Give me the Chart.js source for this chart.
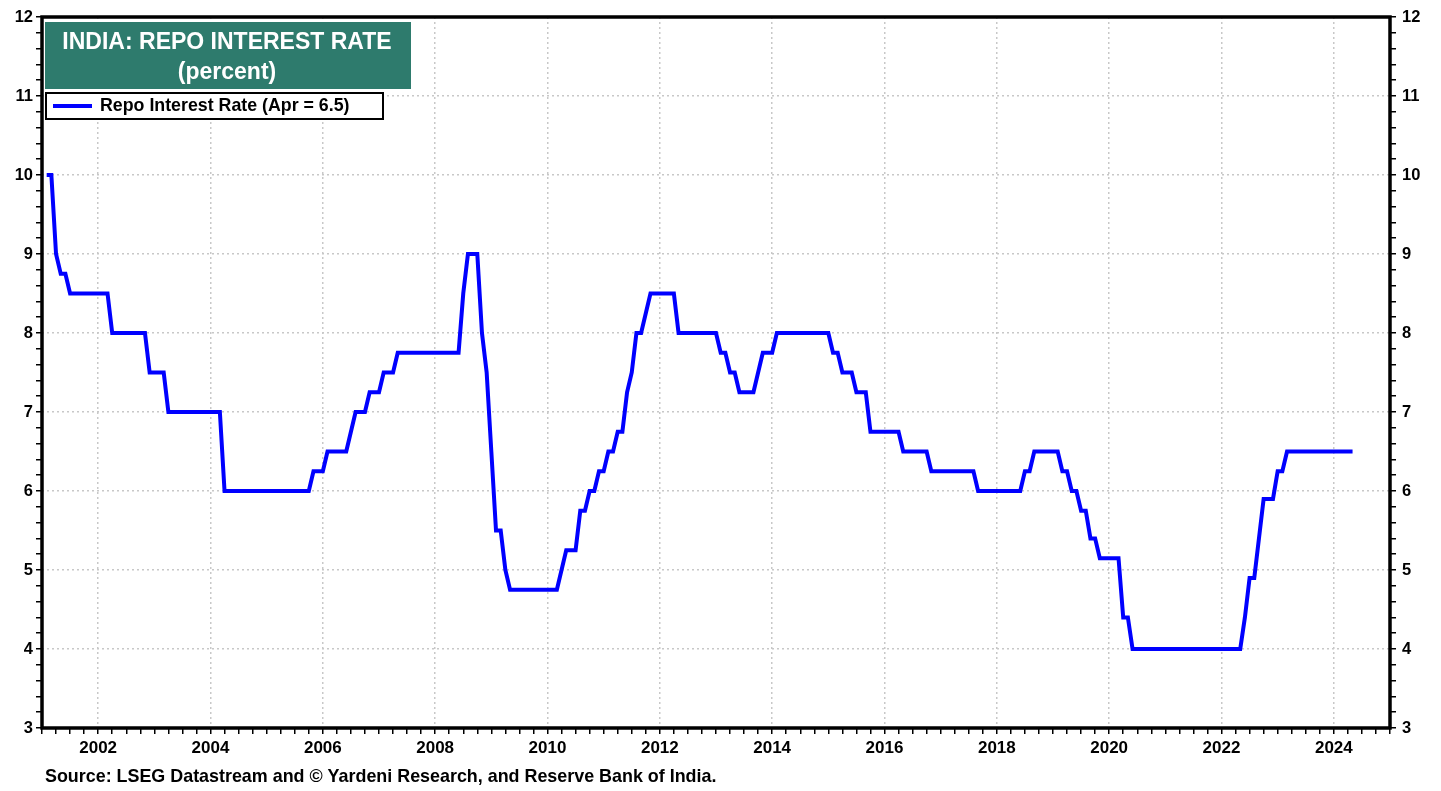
<!DOCTYPE html>
<html>
<head>
<meta charset="utf-8">
<script src="https://cdn.jsdelivr.net/npm/chart.js@4.4.1/dist/chart.umd.min.js"></script>
<style>
  html, body { margin: 0; padding: 0; background: #fff; }
</style>
</head>
<body>
<canvas id="myChart" width="1441" height="791"></canvas>
<script>
// monthly values, month-end, starting Jan 2001
const startYear = 2001;
const repoRate = [
  10, 10, 9, 8.75, 8.75, 8.5, 8.5, 8.5, 8.5, 8.5, 8.5, 8.5,          // 2001
  8.5, 8.5, 8, 8, 8, 8, 8, 8, 8, 8, 7.5, 7.5,                        // 2002
  7.5, 7.5, 7, 7, 7, 7, 7, 7, 7, 7, 7, 7,                            // 2003
  7, 7, 6, 6, 6, 6, 6, 6, 6, 6, 6, 6,                                // 2004
  6, 6, 6, 6, 6, 6, 6, 6, 6, 6.25, 6.25, 6.25,                       // 2005
  6.5, 6.5, 6.5, 6.5, 6.5, 6.75, 7, 7, 7, 7.25, 7.25, 7.25,          // 2006
  7.5, 7.5, 7.5, 7.75, 7.75, 7.75, 7.75, 7.75, 7.75, 7.75, 7.75, 7.75, // 2007
  7.75, 7.75, 7.75, 7.75, 7.75, 8.5, 9, 9, 9, 8, 7.5, 6.5,           // 2008
  5.5, 5.5, 5, 4.75, 4.75, 4.75, 4.75, 4.75, 4.75, 4.75, 4.75, 4.75, // 2009
  4.75, 4.75, 5, 5.25, 5.25, 5.25, 5.75, 5.75, 6, 6, 6.25, 6.25,     // 2010
  6.5, 6.5, 6.75, 6.75, 7.25, 7.5, 8, 8, 8.25, 8.5, 8.5, 8.5,        // 2011
  8.5, 8.5, 8.5, 8, 8, 8, 8, 8, 8, 8, 8, 8,                          // 2012
  7.75, 7.75, 7.5, 7.5, 7.25, 7.25, 7.25, 7.25, 7.5, 7.75, 7.75, 7.75, // 2013
  8, 8, 8, 8, 8, 8, 8, 8, 8, 8, 8, 8,                                // 2014
  7.75, 7.75, 7.5, 7.5, 7.5, 7.25, 7.25, 7.25, 6.75, 6.75, 6.75, 6.75, // 2015
  6.75, 6.75, 6.75, 6.5, 6.5, 6.5, 6.5, 6.5, 6.5, 6.25, 6.25, 6.25,  // 2016
  6.25, 6.25, 6.25, 6.25, 6.25, 6.25, 6.25, 6, 6, 6, 6, 6,           // 2017
  6, 6, 6, 6, 6, 6.25, 6.25, 6.5, 6.5, 6.5, 6.5, 6.5,                // 2018
  6.5, 6.25, 6.25, 6, 6, 5.75, 5.75, 5.4, 5.4, 5.15, 5.15, 5.15,     // 2019
  5.15, 5.15, 4.4, 4.4, 4, 4, 4, 4, 4, 4, 4, 4,                      // 2020
  4, 4, 4, 4, 4, 4, 4, 4, 4, 4, 4, 4,                                // 2021
  4, 4, 4, 4, 4.4, 4.9, 4.9, 5.4, 5.9, 5.9, 5.9, 6.25,               // 2022
  6.25, 6.5, 6.5, 6.5, 6.5, 6.5, 6.5, 6.5, 6.5, 6.5, 6.5, 6.5,       // 2023
  6.5, 6.5, 6.5, 6.5                                                 // 2024
];

const xMin = 2001, xMax = 2025;
const yMin = 3, yMax = 12;
const titleLines = ['INDIA: REPO INTEREST RATE', '(percent)'];
const legendLabel = 'Repo Interest Rate (Apr = 6.5)';
const sourceNote = 'Source: LSEG Datastream and \u00A9 Yardeni Research, and Reserve Bank of India.';

const FONT = '"Liberation Sans", Arial, Helvetica, sans-serif';
const points = repoRate.map((v, i) => ({ x: startYear + (i + 1) / 12, y: v }));

const isEvenYear = v => Math.abs(v - Math.round(v)) < 1e-6 && Math.round(v) % 2 === 0;
const isWhole = v => Math.abs(v - Math.round(v)) < 1e-6;

const boxes = {
  id: 'boxes',
  afterDraw(chart) {
    const ctx = chart.ctx, a = chart.chartArea;
    ctx.save();
    // frame
    ctx.strokeStyle = '#000';
    ctx.lineWidth = 3.5;
    ctx.strokeRect(a.left, a.top, a.right - a.left, a.bottom - a.top);

    // title box
    ctx.fillStyle = '#2e7b6d';
    ctx.fillRect(45, 22, 366, 67);
    ctx.fillStyle = '#fff';
    ctx.textAlign = 'center';
    ctx.textBaseline = 'middle';
    ctx.font = 'bold 23px ' + FONT;
    ctx.fillText(titleLines[0], 227, 42.5);
    ctx.fillText(titleLines[1], 227, 72.5);

    // legend
    ctx.fillStyle = '#fff';
    ctx.fillRect(46, 93, 337, 26);
    ctx.lineWidth = 2;
    ctx.strokeStyle = '#000';
    ctx.strokeRect(46, 93, 337, 26);
    ctx.strokeStyle = '#0000ff';
    ctx.lineWidth = 4;
    ctx.beginPath();
    ctx.moveTo(53, 106);
    ctx.lineTo(92, 106);
    ctx.stroke();
    ctx.fillStyle = '#000';
    ctx.textAlign = 'left';
    ctx.font = 'bold 17.8px ' + FONT;
    ctx.fillText(legendLabel, 100, 106.5);

    // source
    ctx.font = 'bold 17.9px ' + FONT;
    ctx.fillText(sourceNote, 45, 777);
    ctx.restore();
  }
};

const yAxis = (pos) => ({
  type: 'linear',
  position: pos,
  min: yMin,
  max: yMax,
  afterFit: s => { s.width = pos === 'left' ? 42 : 51; },
  ticks: {
    stepSize: 0.2,
    autoSkip: false,
    padding: pos === 'left' ? 3 : 6,
    color: '#000',
    font: { family: FONT, size: 16.5, weight: 'bold' },
    callback: v => isWhole(v) ? String(Math.round(v)) : ''
  },
  grid: {
    drawOnChartArea: pos === 'left',
    color: c => (c.tick && isWhole(c.tick.value)) ? '#c8c8c8' : 'rgba(0,0,0,0)',
    lineWidth: 1.5,
    tickColor: '#000',
    tickLength: 6,
    tickWidth: 1.5
  },
  border: { display: false, dash: [2, 3] }
});

const ctx = document.getElementById('myChart').getContext('2d');
const myChart = new Chart(ctx, {
  type: 'line',
  data: {
    datasets: [{
      label: legendLabel,
      data: points,
      borderColor: '#0000ff',
      borderWidth: 4,
      pointRadius: 0,
      tension: 0,
      fill: false
    }]
  },
  options: {
    responsive: false,
    animation: false,
    devicePixelRatio: 1,
    layout: { padding: { left: 0, right: 0, top: 17, bottom: 23 } },
    plugins: {
      legend: { display: false },
      tooltip: { enabled: false }
    },
    scales: {
      x: {
        type: 'linear',
        min: xMin,
        max: xMax,
        afterFit: s => { s.height = 40; },
        ticks: {
          stepSize: 0.25,
          autoSkip: false,
          maxRotation: 0,
          padding: 4,
          color: '#000',
          font: { family: FONT, size: 17, weight: 'bold' },
          callback: v => isEvenYear(v) ? String(Math.round(v)) : ''
        },
        grid: {
          color: c => (c.tick && isEvenYear(c.tick.value)) ? '#c8c8c8' : 'rgba(0,0,0,0)',
          lineWidth: 1.5,
          tickColor: '#000',
          tickLength: 6,
          tickWidth: 1.5
        },
        border: { display: false, dash: [2, 3] }
      },
      y: yAxis('left'),
      y2: yAxis('right')
    }
  },
  plugins: [boxes]
});
</script>
</body>
</html>
